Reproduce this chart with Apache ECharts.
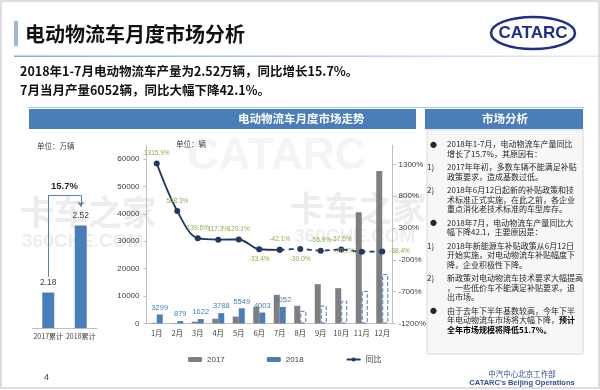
<!DOCTYPE html>
<html><head><meta charset="utf-8">
<script src="https://cdn.jsdelivr.net/npm/echarts@6/dist/echarts.min.js"></script>
<style>html,body{margin:0;padding:0;background:#fff}#c{width:600px;height:390px}</style>
</head><body><div id="c"></div>
<script>
// ---- data ----
const months = ['1月','2月','3月','4月','5月','6月','7月','8月','9月','10月','11月','12月'];
const sales2017 = [233, 132, 677, 1743, 2521, 6010, 10453, 6450, 14350, 12900, 40580, 55630];
const sales2018 = [3299, 879, 1622, 3788, 5549, 4003, 6052, 4630, 6560, 8270, 11900, 18000];
const yoyPct = [1315.9, 568.3, 139.6, 117.3, 120.1, -33.4, -42.1, -30.0, -55.9, -37.5, -70.7, -68.4];
const actualMonths = 7;
const cumCats = ['2017累计', '2018累计'];
const cumValues = [2.18, 2.52];
const cumGrowth = '15.7%';
const legendNames = ['2017', '2018', '同比'];
const titleText = '电动物流车月度市场分析';
const summaryLines = ['2018年1-7月电动物流车产量为2.52万辆，同比增长15.7%。', '7月当月产量6052辆，同比大幅下降42.1%。'];
const panelParas = [
  {mark:'●', lines:['2018年1-7月，电动物流车产量同比','增长了15.7%，其原因有：']},
  {mark:'1)', lines:['2017年年初，多数车辆不能满足补贴','政策要求，造成基数过低。']},
  {mark:'2)', lines:['2018年6月12日起新的补贴政策和技','术标准正式实施，在此之前，各企业','重点消化老技术标准的车型库存。']},
  {mark:'●', lines:['2018年7月，电动物流车产量同比大','幅下降42.1，主要原因是：']},
  {mark:'1)', lines:['2018年新能源车补贴政策从6月12日','开始实施，对电动物流车补贴幅度下','降，企业积极性下降。']},
  {mark:'2)', lines:['新政策对电动物流车技术要求大幅提高','，一些低价车不能满足补贴要求，退','出市场。']},
  {mark:'●', lines:['由于去年下半年基数较高，今年下半','年电动物流车市场将大幅下降，{b|预计}','{b|全年市场规模将降低51.7%。}']}
];

// ---- styling ----
const FONT = "'Liberation Sans','Noto Sans CJK SC',sans-serif";
const CJK = "'Noto Sans CJK SC','Liberation Sans',sans-serif";
const BLUE = '#4a7ebb', GREY = '#7f7f7f', NAVY = '#1f3864', GREEN = '#8fb04a', AX = '#bfbfbf', TXT = '#404040';

const chart = echarts.init(document.getElementById('c'), null, {renderer:'canvas'});

const labelPos = ['top','top','top','top','top','bottom','top','bottom','top','top','left','right'];
const lineData = (from, to, withLabel) => yoyPct.map((v, i) => {
  if (i < from || i > to) return null;
  return {value: v, label: {show: withLabel, position: labelPos[i]}};
});

const bar2018 = sales2018.map((v, i) => i < actualMonths
  ? {value: v, label: {show: true}}
  : {value: v, label: {show: false}, itemStyle: {color: '#fff', borderColor: BLUE, borderType: 'dashed', borderWidth: 1}});

// panel text graphics
const panelGraphics = [];
let py = 144;
panelParas.forEach(p => {
  const bullet = p.mark === '●';
  panelGraphics.push({type:'text', z:20, style:{text:p.mark, x: bullet ? 430 : 427, y: py, fill:'#262626',
    font: (bullet ? '7px ' : '8px ') + CJK, textVerticalAlign:'middle'}});
  p.lines.forEach((ln, k) => {
    panelGraphics.push({type:'text', z:20, style:{text: ln, x: 447, y: py + k*9.5, fill:'#262626',
      font: '8px ' + CJK, textVerticalAlign:'middle',
      rich:{b:{fontWeight:'bold', fontSize:8, fontFamily:CJK, fill:'#000'}}}});
  });
  py += p.lines.length * 9.5 + 4;
});

const option = {
  animation: false,
  backgroundColor: '#fff',
  textStyle: {fontFamily: FONT},
  grid: [
    {left: 32, width: 65, top: 190, height: 138},
    {left: 146.5, width: 246, top: 145.3, height: 178.2}
  ],
  legend: {
    data: legendNames, left: 183, top: 350.5, itemWidth: 14, itemHeight: 5, itemGap: 42,
    textStyle: {fontSize: 8, color: TXT, fontFamily: FONT}
  },
  xAxis: [
    {gridIndex: 0, type: 'category', data: cumCats,
     axisLine: {lineStyle: {color: AX}}, axisTick: {lineStyle: {color: AX}, length: 3},
     axisLabel: {interval: 0, fontSize: 7, color: TXT, margin: 5, fontFamily: CJK}},
    {gridIndex: 1, type: 'category', data: months,
     axisLine: {lineStyle: {color: AX}}, axisTick: {lineStyle: {color: AX}, length: 3},
     axisLabel: {interval: 0, fontSize: 7.5, color: TXT, margin: 6, fontFamily: CJK}}
  ],
  yAxis: [
    {gridIndex: 0, type: 'value', min: 2, max: 2.7, show: false},
    {gridIndex: 1, type: 'value', min: 0, max: 65000, interval: 10000,
     axisLine: {show: true, lineStyle: {color: AX}}, axisTick: {show: true, length: 3, lineStyle: {color: AX}},
     splitLine: {show: false}, axisLabel: {fontSize: 8, color: TXT, showMaxLabel: false, margin: 7, formatter: v => String(v)}},
    {gridIndex: 1, type: 'value', position: 'right', min: -1200, max: 1600, interval: 500,
     axisLine: {show: true, lineStyle: {color: AX}}, axisTick: {show: true, length: 3, lineStyle: {color: AX}},
     splitLine: {show: false}, axisLabel: {fontSize: 8, color: TXT, formatter: v => String(v) + '%', showMaxLabel: false, margin: 6}}
  ],
  series: [
    {name: 'cum', type: 'bar', xAxisIndex: 0, yAxisIndex: 0, data: cumValues, barWidth: 12,
     itemStyle: {color: BLUE},
     label: {show: true, position: 'top', fontSize: 8.5, color: TXT, distance: 6, formatter: p => p.value.toFixed(2)},
     markLine: {
       silent: true, symbol: ['none','none'],
       lineStyle: {color: '#5a7db5', width: 1, type: 'solid'},
       label: {show: false},
       data: [
         [{coord: [cumCats[0], 2.26]}, {coord: [cumCats[0], 2.674]}],
         [{coord: [cumCats[0], 2.674], label: {show: true, formatter: cumGrowth, position: 'insideMiddleTop',
            fontSize: 9.5, fontWeight: 'bold', color: '#262626', distance: 4}}, {coord: [cumCats[1], 2.674]}],
         [{coord: [cumCats[1], 2.674]}, {coord: [cumCats[1], 2.615], symbol: 'arrow', symbolSize: 5}]
       ]
     }},
    {name: legendNames[0], type: 'bar', xAxisIndex: 1, yAxisIndex: 1, data: sales2017, barWidth: 6, barGap: '0%',
     itemStyle: {color: GREY}},
    {name: legendNames[1], type: 'bar', xAxisIndex: 1, yAxisIndex: 1, data: bar2018, barWidth: 6, barGap: '0%',
     itemStyle: {color: BLUE},
     label: {position: 'top', fontSize: 7.5, color: BLUE, distance: 3}},
    {name: legendNames[2], type: 'line', xAxisIndex: 1, yAxisIndex: 2, data: lineData(0, actualMonths - 1, true),
     smooth: 0.35, symbol: 'circle', symbolSize: 6, z: 5,
     lineStyle: {color: NAVY, width: 1.8}, itemStyle: {color: NAVY},
     label: {fontSize: 6.5, color: GREEN, distance: 4, formatter: p => p.value.toFixed(1) + '%'}},
    {name: legendNames[2], type: 'line', xAxisIndex: 1, yAxisIndex: 2, data: lineData(actualMonths - 1, 11, false).map((d, i) => (d && i >= actualMonths) ? {value: d.value, label: {show: true, position: labelPos[i]}} : d),
     smooth: 0.35, symbol: 'circle', symbolSize: 6, z: 5,
     lineStyle: {color: NAVY, width: 1.8, type: [5, 4]}, itemStyle: {color: NAVY},
     label: {fontSize: 6.5, color: GREEN, distance: 4, formatter: p => p.value.toFixed(1) + '%'}}
  ],
  graphic: [
    // watermarks
    {type:'text', z:-10, style:{text:'CATARC', x:187, y:157, fill:'#f4f4f4', font:'bold 44px ' + FONT, textVerticalAlign:'middle'}},
    {type:'text', z:-10, style:{text:'卡车之家', x:20, y:212, fill:'#ededed', font:'bold 34px ' + CJK, textVerticalAlign:'middle'}},
    {type:'text', z:-10, style:{text:'360CHE.COM', x:22, y:242, fill:'#ededed', font:'bold 19px ' + FONT, textVerticalAlign:'middle'}},
    {type:'text', z:-10, style:{text:'卡车之家', x:290, y:208, fill:'#ededed', font:'bold 34px ' + CJK, textVerticalAlign:'middle'}},
    {type:'text', z:-10, style:{text:'360CHE.COM', x:294, y:237, fill:'#ededed', font:'bold 19px ' + FONT, textVerticalAlign:'middle'}},
    // frame
    {type:'rect', z:30, shape:{x:1, y:1, width:598, height:387}, style:{fill:'none', stroke:'#d4d4d4', lineWidth:1.5}},
    // title
    {type:'rect', z:10, shape:{x:14, y:21, width:4, height:25}, style:{fill:'#9fb4d6'}},
    {type:'text', z:10, style:{text:titleText, x:25, y:34, fill:'#111', font:'bold 20px ' + CJK, textVerticalAlign:'middle'}},
    {type:'rect', z:10, shape:{x:14, y:55.5, width:586, height:1.5},
     style:{fill:new echarts.graphic.LinearGradient(0,0,1,0,[{offset:0,color:'#8ea9db'},{offset:1,color:'#e4ebf6'}])}},
    {type:'ellipse', z:10, shape:{cx:533, cy:33, rx:42, ry:16}, style:{fill:'none', stroke:'#1f2e87', lineWidth:2.5}},
    {type:'text', z:10, style:{text:'CATARC', x:533, y:33.5, fill:'#1f2e87', font:"bold 17px 'Liberation Sans Narrow','Liberation Sans',sans-serif", textAlign:'center', textVerticalAlign:'middle'}},
    {type:'text', z:10, style:{text:summaryLines[0], x:20, y:71, fill:'#111', font:'bold 12.5px ' + CJK, textVerticalAlign:'middle'}},
    {type:'text', z:10, style:{text:summaryLines[1], x:20, y:90, fill:'#111', font:'bold 12.5px ' + CJK, textVerticalAlign:'middle'}},
    {type:'line', z:10, shape:{x1:28, y1:107.5, x2:584, y2:107.5}, style:{stroke:'#a9c1e3', lineWidth:1}},
    // headers
    {type:'rect', z:10, shape:{x:29, y:109, width:387, height:20}, style:{fill:BLUE}},
    {type:'text', z:11, style:{text:'电动物流车月度市场走势', x:238, y:119, fill:'#fff', font:'bold 11.5px ' + CJK, textVerticalAlign:'middle'}},
    {type:'rect', z:10, shape:{x:425, y:109, width:158, height:20}, style:{fill:BLUE}},
    {type:'text', z:11, style:{text:'市场分析', x:505, y:119, fill:'#fff', font:'bold 11.5px ' + CJK, textAlign:'center', textVerticalAlign:'middle'}},
    {type:'rect', z:9, shape:{x:427, y:130, width:156, height:224}, style:{fill:'#f7f7f7', stroke:'#d9d9d9', lineWidth:1}},
    // units
    {type:'text', z:10, style:{text:'单位：万辆', x:37, y:146, fill:TXT, font:'7.5px ' + CJK, textVerticalAlign:'middle'}},
    {type:'text', z:10, style:{text:'单位：辆', x:176, y:144, fill:TXT, font:'7.5px ' + CJK, textVerticalAlign:'middle'}},
    // footer
    {type:'text', z:10, style:{text:'4', x:44, y:378, fill:TXT, font:'9px ' + FONT, textVerticalAlign:'middle'}},
    {type:'text', z:10, style:{text:'中汽中心北京工作部', x:522, y:374, fill:'#2f4f8f', font:'7.5px ' + CJK, textAlign:'center', textVerticalAlign:'middle'}},
    {type:'text', z:10, style:{text:"CATARC's Beijing Operations", x:522, y:382.5, fill:'#2f4f8f', font:'bold 7.5px ' + FONT, textAlign:'center', textVerticalAlign:'middle'}}
  ].concat(panelGraphics)
};
chart.setOption(option);
</script>
</body></html>
